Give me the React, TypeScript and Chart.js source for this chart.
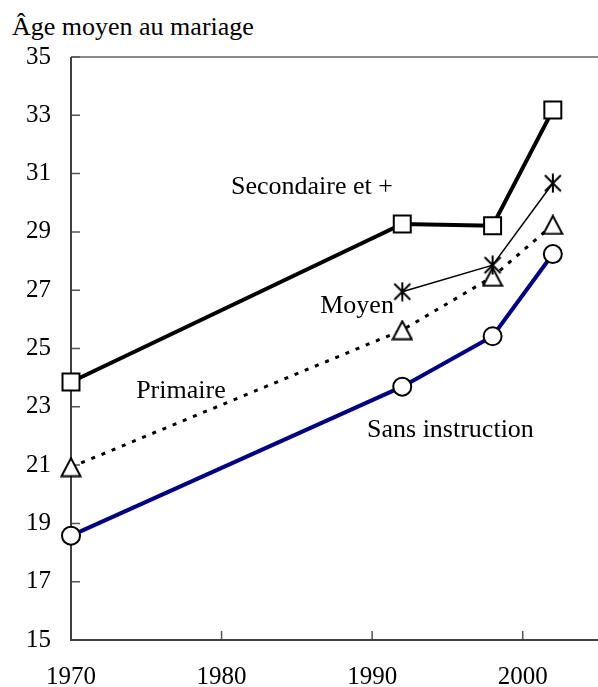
import React, { useEffect, useRef } from "react";
import { Chart, registerables } from "chart.js";

Chart.register(...registerables);

const FONT = "'Liberation Serif', 'Times New Roman', serif";

const years = [1970, 1992, 1998, 2002];
const moyenYears = [1992, 1998, 2002];
const secondaire = [23.85, 29.27, 29.21, 33.18];
const moyen = [26.95, 27.86, 30.67];
const primaire = [20.93, 25.63, 27.46, 29.24];
const sansInstruction = [18.58, 23.69, 25.42, 28.24];

const xTicks = [1970, 1980, 1990, 2000];
const yTicks = [15, 17, 19, 21, 23, 25, 27, 29, 31, 33, 35];

const titleText = "Âge moyen au mariage";
const noteTexts = ["Secondaire et +", "Moyen", "Primaire", "Sans instruction"];
const noteX = [1986.0, 1989.0, 1977.3, 1995.2];
const noteY = [30.52, 26.46, 23.54, 22.2];

function makeAsterisk(): HTMLCanvasElement {
  const c = document.createElement("canvas");
  c.width = 20;
  c.height = 20;
  const g = c.getContext("2d")!;
  g.strokeStyle = "#000";
  g.lineWidth = 2;
  g.beginPath();
  g.moveTo(10, 0.5);
  g.lineTo(10, 19.5);
  g.moveTo(2, 2);
  g.lineTo(18, 18);
  g.moveTo(2, 18);
  g.lineTo(18, 2);
  g.stroke();
  return c;
}

function makeTriangle(): HTMLCanvasElement {
  const c = document.createElement("canvas");
  c.width = 22;
  c.height = 21;
  const g = c.getContext("2d")!;
  g.fillStyle = "#fff";
  g.strokeStyle = "#000";
  g.lineWidth = 2;
  g.lineJoin = "miter";
  g.beginPath();
  g.moveTo(11, 1.5);
  g.lineTo(1.5, 19.5);
  g.lineTo(20.5, 19.5);
  g.closePath();
  g.fill();
  g.stroke();
  return c;
}

const axesPlugin = {
  id: "axesPlugin",
  beforeDatasetsDraw(chart: any) {
    const { ctx, chartArea, scales } = chart;
    const x = scales.x;
    const y = scales.y;
    ctx.save();
    ctx.strokeStyle = "#8a8a8a";
    ctx.lineWidth = 2;
    ctx.beginPath();
    ctx.moveTo(chartArea.left, chartArea.top);
    ctx.lineTo(chartArea.right, chartArea.top);
    ctx.stroke();
    ctx.strokeStyle = "#555";
    ctx.lineWidth = 1.5;
    ctx.beginPath();
    yTicks.forEach((v) => {
      const p = y.getPixelForValue(v);
      ctx.moveTo(chartArea.left, p);
      ctx.lineTo(chartArea.left + 9, p);
    });
    xTicks.forEach((v) => {
      const p = x.getPixelForValue(v);
      ctx.moveTo(p, chartArea.bottom);
      ctx.lineTo(p, chartArea.bottom - 9);
    });
    ctx.stroke();
    ctx.strokeStyle = "#404040";
    ctx.lineWidth = 2;
    ctx.beginPath();
    ctx.moveTo(chartArea.left, chartArea.top);
    ctx.lineTo(chartArea.left, chartArea.bottom);
    ctx.lineTo(chartArea.right, chartArea.bottom);
    ctx.stroke();
    ctx.restore();
  },
  afterDatasetsDraw(chart: any) {
    const { ctx, scales } = chart;
    ctx.save();
    ctx.font = `26px ${FONT}`;
    ctx.fillStyle = "#000";
    ctx.textAlign = "center";
    ctx.textBaseline = "middle";
    noteTexts.forEach((t, i) => {
      ctx.fillText(t, scales.x.getPixelForValue(noteX[i]), scales.y.getPixelForValue(noteY[i]));
    });
    ctx.restore();
  },
};

export default function App() {
  const ref = useRef<HTMLCanvasElement>(null);
  useEffect(() => {
    const star = makeAsterisk();
    const tri = makeTriangle();
    const toPts = (xs: number[], ys: number[]) => xs.map((v, i) => ({ x: v, y: ys[i] }));
    const chart = new Chart(ref.current!, {
      type: "line",
      data: {
        datasets: [
          {
            label: "Secondaire et +",
            data: toPts(years, secondaire),
            borderColor: "#000",
            borderWidth: 4,
            pointStyle: "rect",
            pointRadius: 12,
            pointBorderWidth: 2,
            pointBorderColor: "#000",
            pointBackgroundColor: "#fff",
            order: 0,
            clip: false,
          },
          {
            label: "Moyen",
            data: toPts(moyenYears, moyen),
            borderColor: "#000",
            borderWidth: 1.5,
            pointStyle: star,
            pointRadius: 10,
            order: 1,
            clip: false,
          },
          {
            label: "Primaire",
            data: toPts(years, primaire),
            borderColor: "#000",
            borderWidth: 3,
            borderDash: [4, 7],
            pointStyle: tri,
            pointRadius: 11,
            order: 2,
            clip: false,
          },
          {
            label: "Sans instruction",
            data: toPts(years, sansInstruction),
            borderColor: "#000080",
            borderWidth: 4,
            pointStyle: "circle",
            pointRadius: 9,
            pointBorderWidth: 2,
            pointBorderColor: "#000",
            pointBackgroundColor: "#fff",
            order: 3,
            clip: false,
          },
        ],
      },
      options: {
        responsive: false,
        maintainAspectRatio: false,
        animation: false,
        layout: { padding: { top: 57, right: 2, left: 0, bottom: 0 } },
        plugins: { legend: { display: false }, tooltip: { enabled: false }, title: { display: false } },
        scales: {
          x: {
            type: "linear",
            min: 1970,
            max: 2005,
            grid: { display: false, drawTicks: false },
            border: { display: false },
            afterBuildTicks: (s: any) => {
              s.ticks = xTicks.map((v) => ({ value: v }));
            },
            afterFit: (s: any) => {
              s.height = 47;
              s.paddingLeft = 0;
              s.paddingRight = 0;
            },
            ticks: {
              autoSkip: false,
              maxRotation: 0,
              padding: 22,
              color: "#000",
              font: { family: FONT, size: 25 },
              callback: (v: any) => String(v),
            },
          },
          y: {
            type: "linear",
            min: 15,
            max: 35,
            grid: { display: false, drawTicks: false },
            border: { display: false },
            afterBuildTicks: (s: any) => {
              s.ticks = yTicks.map((v) => ({ value: v }));
            },
            afterFit: (s: any) => {
              s.width = 71;
              s.paddingTop = 0;
              s.paddingBottom = 0;
            },
            ticks: {
              padding: 20,
              color: "#000",
              font: { family: FONT, size: 25 },
              callback: (v: any) => String(v),
            },
          },
        },
      },
      plugins: [axesPlugin],
    });
    return () => chart.destroy();
  }, []);
  return (
    <div style={{ position: "fixed", left: 0, top: 0, width: 598, height: 687, overflow: "hidden", background: "#fff" }}>
      <div
        style={{
          position: "absolute",
          left: 12,
          top: 12,
          fontFamily: FONT,
          fontSize: 26,
          lineHeight: "30px",
          color: "#000",
          whiteSpace: "nowrap",
        }}
      >
        {titleText}
      </div>
      <div style={{ position: "absolute", left: 0, top: 0, width: 612, height: 687 }}>
        <canvas ref={ref} width={612} height={687} style={{ display: "block", width: 612, height: 687 }} />
      </div>
    </div>
  );
}
